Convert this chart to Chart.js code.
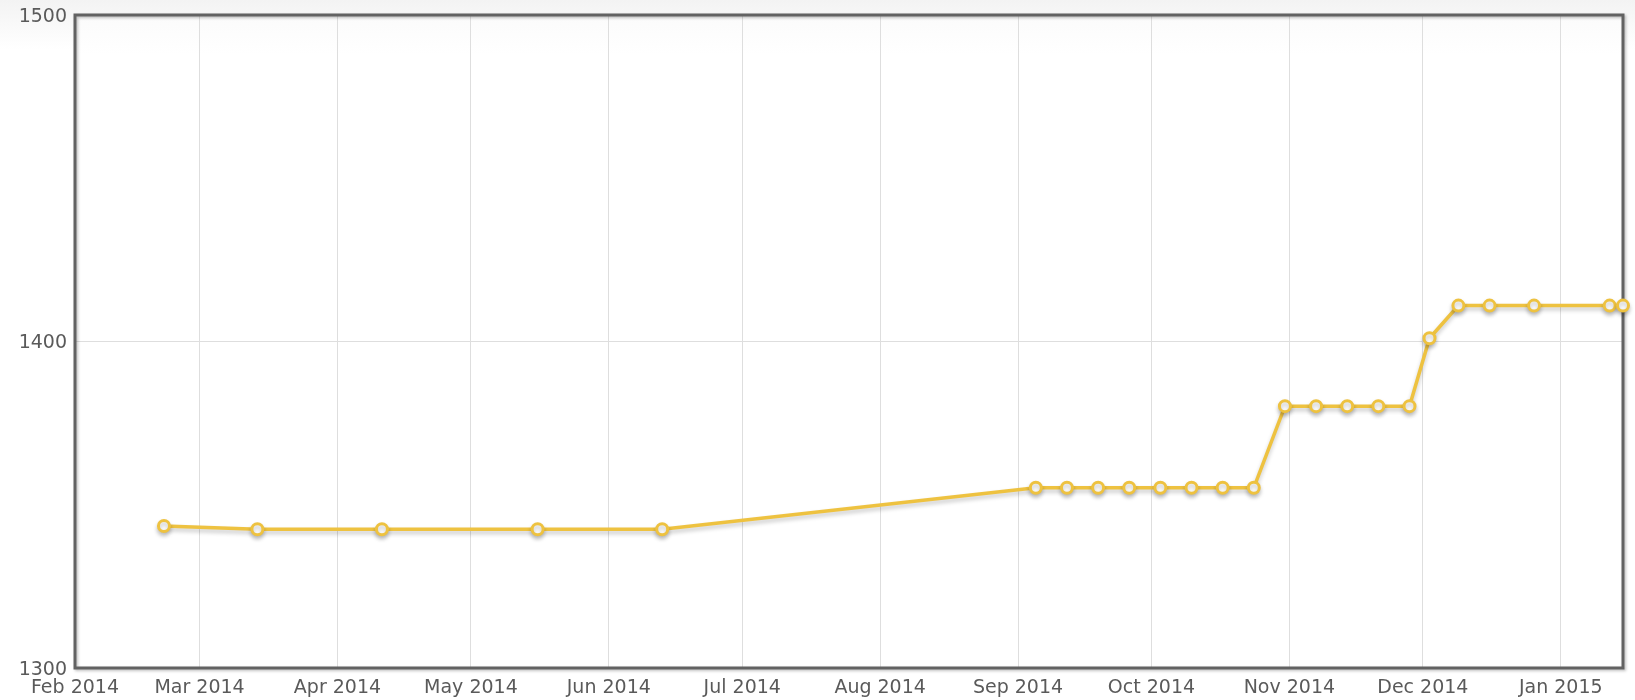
<!DOCTYPE html>
<html>
<head>
<meta charset="utf-8">
<script src="https://cdn.jsdelivr.net/npm/chart.js@4.4.1/dist/chart.umd.min.js"></script>
<style>
  html, body { margin: 0; padding: 0; background: #ffffff; }
  #wrap { width: 1635px; height: 700px; position: relative; }
</style>
</head>
<body>
<div id="wrap"><canvas id="c" width="1635" height="700"></canvas></div>
<script>
// ---- data ----
const dates = [
  "2014-02-21", "2014-03-14", "2014-04-11", "2014-05-16", "2014-06-13",
  "2014-09-05", "2014-09-12", "2014-09-19", "2014-09-26", "2014-10-03",
  "2014-10-10", "2014-10-17", "2014-10-24", "2014-10-31", "2014-11-07",
  "2014-11-14", "2014-11-21", "2014-11-28", "2014-12-02T12:00Z", "2014-12-09",
  "2014-12-16", "2014-12-26", "2015-01-12", "2015-01-15"
];
const values = [
  1343.5, 1342.5, 1342.5, 1342.5, 1342.5,
  1355.2, 1355.2, 1355.2, 1355.2, 1355.2,
  1355.2, 1355.2, 1355.2, 1380.2, 1380.2,
  1380.2, 1380.2, 1380.2, 1401, 1411,
  1411, 1411, 1411, 1411
];
const tickDates = [
  "2014-02-01", "2014-03-01", "2014-04-01", "2014-05-01", "2014-06-01", "2014-07-01",
  "2014-08-01", "2014-09-01", "2014-10-01", "2014-11-01", "2014-12-01", "2015-01-01"
];
const tickLabels = [
  "Feb 2014", "Mar 2014", "Apr 2014", "May 2014", "Jun 2014", "Jul 2014",
  "Aug 2014", "Sep 2014", "Oct 2014", "Nov 2014", "Dec 2014", "Jan 2015"
];
const xStart = "2014-02-01";
const xEnd = "2015-01-15";
const yMin = 1300, yMax = 1500, yStep = 100;

// ---- helpers ----
const DAY = 86400000;
const t0 = Date.parse(xStart);
const toDay = d => (Date.parse(d) - t0) / DAY;
const points = dates.map((d, i) => ({ x: toDay(d), y: values[i] }));
const tickDays = tickDates.map(toDay);

const LINE = '#EEC240';

const framePlugin = {
  id: 'frame',
  beforeDraw(chart) {
    const ctx = chart.ctx;
    ctx.save();
    const g = ctx.createLinearGradient(0, 0, 0, 50);
    g.addColorStop(0, '#f3f3f3');
    g.addColorStop(1, '#ffffff');
    ctx.fillStyle = g;
    ctx.fillRect(0, 0, chart.width, chart.height);
    const a = chart.chartArea;
    const g2 = ctx.createLinearGradient(0, a.top, 0, a.top + 40);
    g2.addColorStop(0, '#fbfbfb');
    g2.addColorStop(1, '#ffffff');
    ctx.fillStyle = g2;
    ctx.fillRect(a.left, a.top, a.right - a.left, a.bottom - a.top);
    ctx.restore();
  },
  beforeDatasetsDraw(chart) {
    const ctx = chart.ctx;
    const a = chart.chartArea;
    ctx.save();
    ctx.shadowColor = 'rgba(0,0,0,0.25)';
    ctx.shadowBlur = 3;
    ctx.shadowOffsetX = 1.5;
    ctx.shadowOffsetY = 1.5;
    ctx.strokeStyle = '#626262';
    ctx.lineWidth = 3;
    ctx.strokeRect(a.left, a.top, a.right - a.left, a.bottom - a.top);
    ctx.restore();
    ctx.save();
    ctx.shadowColor = 'rgba(0,0,0,0.22)';
    ctx.shadowBlur = 4;
    ctx.shadowOffsetX = 0;
    ctx.shadowOffsetY = 3;
  },
  afterDatasetsDraw(chart) {
    chart.ctx.restore();
  }
};

new Chart(document.getElementById('c'), {
  type: 'line',
  data: {
    datasets: [{
      data: points,
      borderColor: LINE,
      borderWidth: 3.5,
      pointRadius: 5.5,
      pointBorderWidth: 3,
      pointBackgroundColor: '#ffffff',
      pointBorderColor: LINE,
      tension: 0,
      fill: false,
      clip: false
    }]
  },
  options: {
    responsive: false,
    animation: false,
    events: [],
    layout: { padding: { top: 15, right: 12, left: 0, bottom: 0 } },
    plugins: { legend: { display: false }, tooltip: { enabled: false } },
    scales: {
      x: {
        type: 'linear',
        min: 0,
        max: toDay(xEnd),
        afterBuildTicks(scale) {
          scale.ticks = tickDays.map(v => ({ value: v }));
        },
        afterFit(scale) {
          scale.height = 32;
          scale.paddingLeft = 0; scale.paddingRight = 0;
        },
        grid: { color: '#dedede', lineWidth: 1, drawTicks: false },
        border: { display: false },
        ticks: {
          autoSkip: false,
          maxRotation: 0,
          padding: 9,
          color: '#5a5a5a',
          font: { family: 'DejaVu Sans', size: 19 },
          callback(v) {
            const i = tickDays.indexOf(v);
            return i >= 0 ? tickLabels[i] : '';
          }
        }
      },
      y: {
        min: yMin,
        max: yMax,
        afterFit(scale) {
          scale.width = 75;
          scale.paddingTop = 0; scale.paddingBottom = 0;
        },
        grid: { color: '#dedede', lineWidth: 1, drawTicks: false },
        border: { display: false },
        ticks: {
          stepSize: yStep,
          padding: 8,
          labelOffset: 2,
          color: '#5a5a5a',
          font: { family: 'DejaVu Sans', size: 19 },
          callback(v) { return String(v); }
        }
      }
    }
  },
  plugins: [framePlugin]
});
</script>
</body>
</html>
